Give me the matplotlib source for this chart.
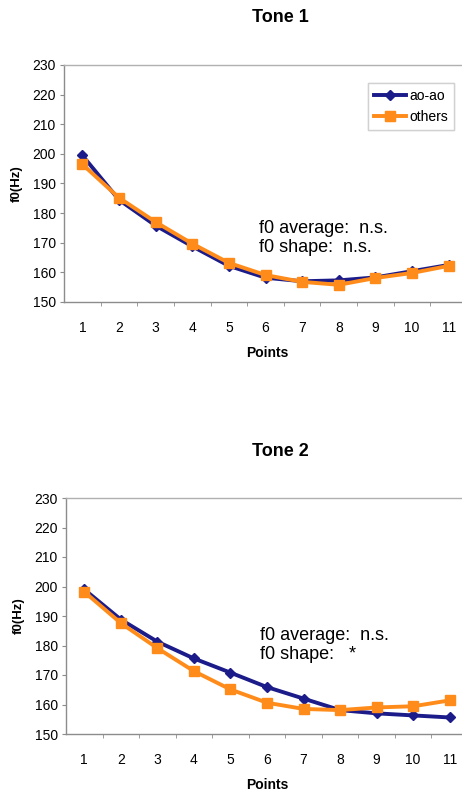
import matplotlib.pyplot as plt
import numpy as np

plt.rcParams['font.family'] = ['Liberation Sans', 'DejaVu Sans']

points = list(range(1, 12))
tone1_aoao = [199.5, 184.5, 175.8, 168.8, 162.2, 158.2, 157.0, 157.3, 158.3, 160.4, 162.5]
tone1_others = [196.5, 185.2, 177.0, 169.7, 163.2, 159.1, 156.8, 155.8, 158.1, 159.8, 162.2]
tone2_aoao = [199.0, 188.8, 181.3, 175.6, 170.8, 165.9, 162.0, 158.1, 157.0, 156.3, 155.6]
tone2_others = [198.2, 187.6, 179.1, 171.3, 165.1, 160.6, 158.5, 158.1, 159.0, 159.4, 161.4]
titles = ['Tone 1', 'Tone 2']
notes = ['f0 average:  n.s.\nf0 shape:  n.s.', 'f0 average:  n.s.\nf0 shape:   *']

navy = '#1b1b8a'
orange = '#ff8c1a'
grey = '#8c8c8c'

fig = plt.figure(figsize=(4.62, 7.96), dpi=100)
W, H = 462, 796

# axes boxes in pixels: left, top, right, bottom
boxes = [(64, 65, 467, 302), (66, 498, 468, 734)]
title_y = [18, 451]
xlabel_y = [353, 785]
note_y = [171.6, 180.2]
data = [(tone1_aoao, tone1_others), (tone2_aoao, tone2_others)]

for i in range(2):
    l, t, r, b = boxes[i]
    ax = fig.add_axes([l / W, 1 - b / H, (r - l) / W, (b - t) / H])
    a, o = data[i]
    ax.plot(points, a, color=navy, lw=2.8, marker='D', ms=5.5, label='ao-ao', zorder=3)
    ax.plot(points, o, color=orange, lw=2.8, marker='s', ms=7.5, label='others', zorder=4)
    ax.set_xlim(0.5, 11.5)
    ax.set_ylim(150, 230)
    ax.set_yticks(np.arange(150, 231, 10))
    ax.set_xticks(points)
    ax.set_xticks(np.arange(1.5, 11, 1), minor=True)
    ax.tick_params(axis='x', which='major', length=0, pad=14, labelsize=10)
    ax.tick_params(axis='x', which='minor', length=3, color=grey)
    ax.tick_params(axis='y', length=3, color=grey, labelsize=10, pad=3)
    for s in ax.spines.values():
        s.set_color(grey)
        s.set_linewidth(1.0)
    ax.spines['top'].set_color('#b0b0b0')
    ax.set_ylabel('f0(Hz)', fontsize=9.5, fontweight='bold', labelpad=7)
    leg = ax.legend(loc='upper left', bbox_to_anchor=((368 - l) / (r - l), 1 - (83 - t) / (b - t)),
                    fontsize=10, frameon=True, fancybox=False, edgecolor='#cccccc',
                    handlelength=2.3, handletextpad=0.2, borderpad=0.45, labelspacing=0.5,
                    borderaxespad=0)
    leg.get_frame().set_linewidth(1.0)
    ax.text(5.82, note_y[i], notes[i], fontsize=13,
            va='center', ha='left', linespacing=1.1)
    fig.text(280 / W, 1 - title_y[i] / H, titles[i], ha='center', va='center',
             fontsize=13, fontweight='bold')
    fig.text(267 / W, 1 - xlabel_y[i] / H, 'Points', ha='center', va='center',
             fontsize=10, fontweight='bold')

plt.savefig('out.png', dpi=100)
